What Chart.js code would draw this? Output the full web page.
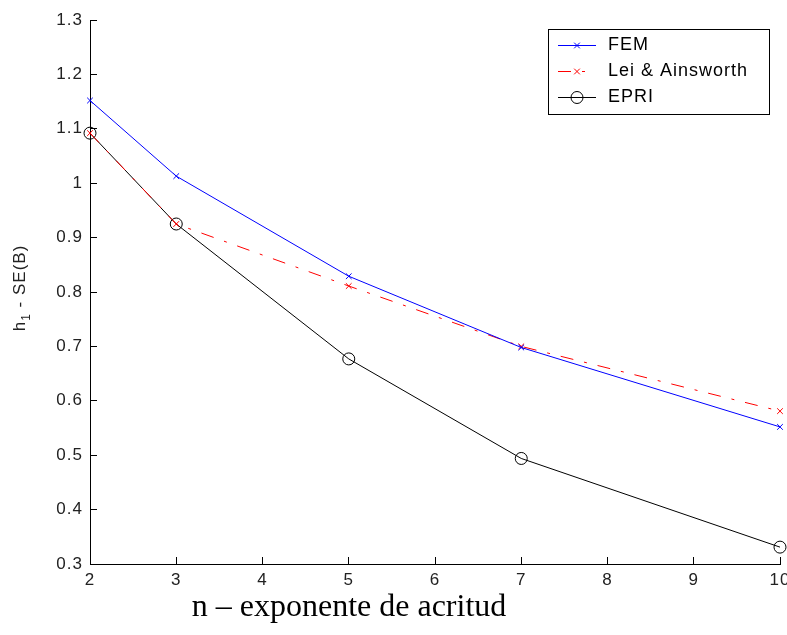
<!DOCTYPE html>
<html>
<head>
<meta charset="utf-8">
<script src="https://cdn.jsdelivr.net/npm/chart.js@4.4.1/dist/chart.umd.min.js"></script>
<style>
  body { margin: 0; background: #fff; }
  #wrap { width: 787px; height: 635px; position: relative; }
</style>
</head>
<body>
<div id="wrap"><canvas id="chart"></canvas></div>
<script>
// datos
const nValues = [2, 3, 5, 7, 10];
const femValues = [1.152, 1.013, 0.829, 0.698, 0.552];
const leiValues = [1.092, 0.925, 0.811, 0.70, 0.581];
const epriValues = [1.092, 0.925, 0.677, 0.494, 0.331];
const seriesNames = ['FEM', 'Lei & Ainsworth', 'EPRI'];
const xTicks = [2, 3, 4, 5, 6, 7, 8, 9, 10];
const yTicks = [0.3, 0.4, 0.5, 0.6, 0.7, 0.8, 0.9, 1, 1.1, 1.2, 1.3];
const xTitle = 'n \u2013 exponente de acritud';

function toPoints(values) {
    return nValues.map(function (n, i) { return { x: n, y: values[i] }; });
}

const tickFont = { family: 'Liberation Sans, Arial, sans-serif', size: 17 };

// ejes y leyenda al estilo MATLAB
const matlabPlugin = {
    id: 'matlab',
    beforeDraw: function (chart) {
        chart.ctx.letterSpacing = '1px';
    },
    afterDraw: function (chart) {
        const ctx = chart.ctx;
        const area = chart.chartArea;

        // titulo eje x
        ctx.save();
        ctx.letterSpacing = '0px';
        ctx.fillStyle = '#000';
        ctx.font = '32px "Liberation Serif", "Times New Roman", serif';
        ctx.textAlign = 'center';
        ctx.textBaseline = 'alphabetic';
        ctx.fillText(xTitle, 349, 616);
        ctx.restore();

        // titulo eje y con subindice
        ctx.save();
        ctx.fillStyle = '#222';
        ctx.letterSpacing = '1px';
        ctx.translate(25, (area.top + area.bottom) / 2 - 4);
        ctx.rotate(-Math.PI / 2);
        const big = '17px "Liberation Sans", Arial, sans-serif';
        const small = '12px "Liberation Sans", Arial, sans-serif';
        ctx.font = big;
        const wH = ctx.measureText('h').width;
        const wRest = ctx.measureText(' - SE(B)').width;
        ctx.font = small;
        const wSub = ctx.measureText('1').width;
        let x = -(wH + wSub + wRest) / 2;
        ctx.textBaseline = 'alphabetic';
        ctx.font = big;
        ctx.fillText('h', x, 0);
        x += wH;
        ctx.font = small;
        ctx.fillText('1', x, 5);
        x += wSub;
        ctx.font = big;
        ctx.fillText(' - SE(B)', x, 0);
        ctx.restore();

        // leyenda
        const box = { left: 548, top: 29, right: 769, bottom: 114 };
        ctx.save();
        ctx.fillStyle = '#fff';
        ctx.fillRect(box.left, box.top, box.right - box.left, box.bottom - box.top);
        ctx.strokeStyle = '#000';
        ctx.lineWidth = 1;
        ctx.strokeRect(box.left + 0.5, box.top + 0.5, box.right - box.left, box.bottom - box.top);
        chart.data.datasets.forEach(function (ds, i) {
            const y = 45.5 + i * 26;
            ctx.save();
            ctx.strokeStyle = ds.borderColor;
            ctx.lineWidth = 1;
            ctx.setLineDash(ds.borderDash || []);
            ctx.beginPath();
            ctx.moveTo(558, y);
            ctx.lineTo(596, y);
            ctx.stroke();
            ctx.setLineDash([]);
            ctx.strokeStyle = ds.borderColor;
            ctx.fillStyle = 'rgba(0,0,0,0)';
            Chart.helpers.drawPoint(ctx, {
                pointStyle: ds.pointStyle,
                radius: ds.pointRadius,
                borderWidth: 1,
                rotation: 0
            }, 577, y);
            ctx.restore();
            ctx.fillStyle = '#000';
            ctx.font = '18px "Liberation Sans", Arial, sans-serif';
            ctx.letterSpacing = '1px';
            ctx.textBaseline = 'middle';
            ctx.textAlign = 'left';
            ctx.fillText(ds.label, 608, y);
        });
        ctx.restore();
    }
};

function fixScale(size) {
    return function (scale) {
        if (scale.isHorizontal()) {
            scale.height = size;
        } else {
            scale.width = size;
        }
        scale.paddingLeft = 0;
        scale.paddingRight = 0;
        scale.paddingTop = 0;
        scale.paddingBottom = 0;
    };
}

const ctx = document.getElementById('chart').getContext('2d');

new Chart(ctx, {
    type: 'line',
    data: {
        datasets: [{
            label: seriesNames[0],
            data: toPoints(femValues),
            borderColor: '#0000ff',
            backgroundColor: '#0000ff',
            borderWidth: 1,
            pointStyle: 'crossRot',
            pointRadius: 4,
            pointBorderWidth: 1,
            clip: false
        }, {
            label: seriesNames[1],
            data: toPoints(leiValues),
            borderColor: '#ff0000',
            backgroundColor: '#ff0000',
            borderWidth: 1,
            borderDash: [13, 11, 3, 11],
            pointStyle: 'crossRot',
            pointRadius: 4,
            pointBorderWidth: 1,
            clip: false
        }, {
            label: seriesNames[2],
            data: toPoints(epriValues),
            borderColor: '#000000',
            backgroundColor: 'rgba(0,0,0,0)',
            borderWidth: 1,
            pointStyle: 'circle',
            pointRadius: 6,
            pointBorderWidth: 1,
            clip: false
        }]
    },
    options: {
        responsive: true,
        maintainAspectRatio: false,
        animation: false,
        events: [],
        layout: {
            autoPadding: false,
            padding: { top: 20, right: 7, bottom: 0, left: 0 }
        },
        plugins: {
            legend: { display: false },
            tooltip: { enabled: false }
        },
        scales: {
            x: {
                type: 'linear',
                min: 2,
                max: 10,
                afterFit: fixScale(71),
                afterBuildTicks: function (scale) {
                    scale.ticks = xTicks.map(function (v) { return { value: v }; });
                },
                ticks: {
                    font: tickFont,
                    color: '#222',
                    padding: 13,
                    maxRotation: 0,
                    autoSkip: false,
                    callback: function (v) { return String(v); }
                },
                grid: {
                    drawOnChartArea: false,
                    drawTicks: true,
                    tickLength: -7,
                    color: '#000'
                },
                border: { display: true, color: '#000', width: 1 }
            },
            y: {
                type: 'linear',
                min: 0.3,
                max: 1.3,
                afterFit: fixScale(90),
                afterBuildTicks: function (scale) {
                    scale.ticks = yTicks.map(function (v) { return { value: v }; });
                },
                ticks: {
                    font: tickFont,
                    color: '#222',
                    padding: 14,
                    autoSkip: false,
                    callback: function (v) { return String(Number(v.toFixed(1))); }
                },
                grid: {
                    drawOnChartArea: false,
                    drawTicks: true,
                    tickLength: -7,
                    color: '#000'
                },
                border: { display: true, color: '#000', width: 1 }
            }
        }
    },
    plugins: [matlabPlugin]
});
</script>
</body>
</html>
